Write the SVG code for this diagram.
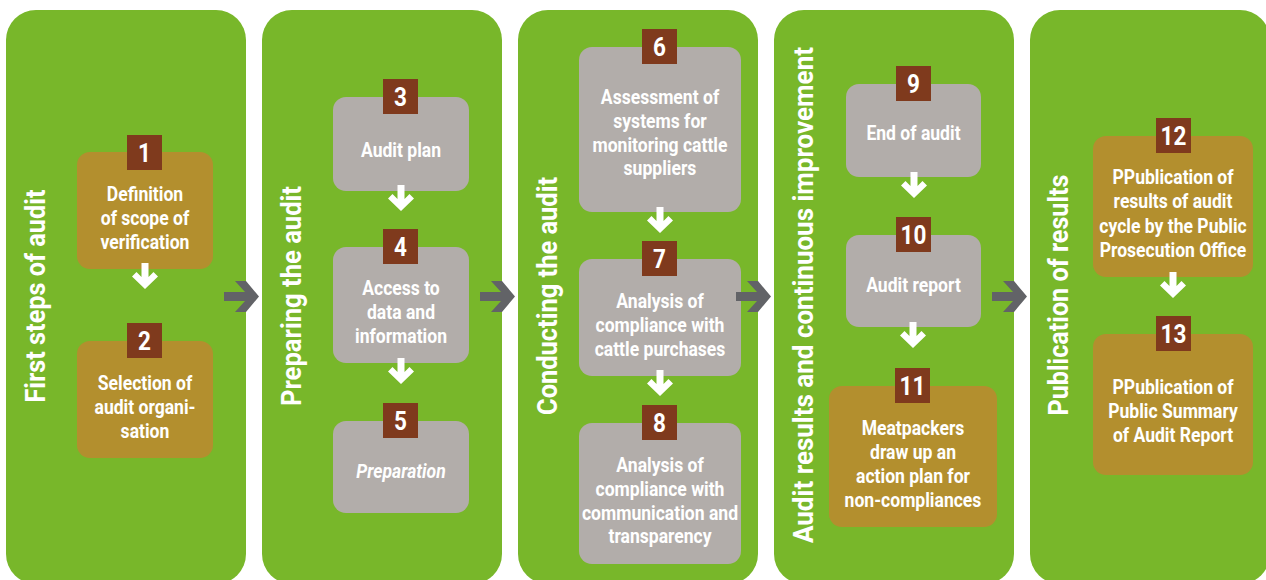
<svg xmlns="http://www.w3.org/2000/svg" width="1266" height="580" viewBox="0 0 1266 580">
<style>
.panel{fill:#78b72a}
.gold{fill:#b38f2e}
.gray{fill:#b2adaa}
.badge{fill:#7f3a1d}
.num{font-family:Roboto,"Liberation Sans",sans-serif;font-weight:700;font-size:25px;fill:#fff;text-anchor:middle;transform-box:fill-box;transform-origin:center;transform:scaleX(0.9)}
.lbl{font-family:Roboto,"Liberation Sans",sans-serif;font-weight:700;font-size:19.5px;fill:#fff;text-anchor:middle;transform-box:fill-box;transform-origin:center;transform:scaleX(0.9)}
.ital{font-style:italic}
.title{font-family:Roboto,"Liberation Sans",sans-serif;font-weight:700;font-size:28px;fill:#fff;text-anchor:middle}
.warr{fill:#fff}
.garr{fill:#626367}
</style>
<defs>
<path id="down" d="M-3.5,0 L3.5,0 L3.5,14 L8.5,9 L13,13.5 L0,26 L-13,13.5 L-8.5,9 L-3.5,14 Z"/>
<path id="right" d="M-35,-4.5 L-14,-4.5 L-24,-15.5 L-13,-15.5 L0,0 L-13,15.5 L-24,15.5 L-14,4.5 L-35,4.5 Z"/>
</defs>

<g id="panels">
<g id="panel-first-steps">
<rect class="panel" x="6" y="10" width="240" height="574" rx="30"/>
<text class="title" transform="translate(45,296) rotate(-90)" textLength="213" lengthAdjust="spacingAndGlyphs">First steps of audit</text>
</g>
<g id="panel-preparing">
<rect class="panel" x="262" y="10" width="240" height="574" rx="30"/>
<text class="title" transform="translate(301,296) rotate(-90)" textLength="220" lengthAdjust="spacingAndGlyphs">Preparing the audit</text>
</g>
<g id="panel-conducting">
<rect class="panel" x="518" y="10" width="240" height="574" rx="30"/>
<text class="title" transform="translate(557,296) rotate(-90)" textLength="238" lengthAdjust="spacingAndGlyphs">Conducting the audit</text>
</g>
<g id="panel-results">
<rect class="panel" x="774" y="10" width="240" height="574" rx="30"/>
<text class="title" transform="translate(813,295) rotate(-90)" textLength="496" lengthAdjust="spacingAndGlyphs">Audit results and continuous improvement</text>
</g>
<g id="panel-publication">
<rect class="panel" x="1030" y="10" width="240" height="574" rx="30"/>
<text class="title" transform="translate(1068,295) rotate(-90)" textLength="241" lengthAdjust="spacingAndGlyphs">Publication of results</text>
</g>
</g>

<g id="node-1">
<rect class="gold" x="77" y="152" width="136" height="117" rx="13"/>
<rect class="badge" x="127" y="135" width="35" height="35"/>
<text class="num" x="144.5" y="162">1</text>
<text class="lbl" x="145" y="201">Definition</text>
<text class="lbl" x="145" y="225">of scope of</text>
<text class="lbl" x="145" y="249">verification</text>
</g>
<g id="node-2">
<rect class="gold" x="77" y="341" width="136" height="117" rx="13"/>
<rect class="badge" x="127" y="323" width="35" height="35"/>
<text class="num" x="144.5" y="350">2</text>
<text class="lbl" x="145" y="390">Selection of</text>
<text class="lbl" x="145" y="414">audit organi-</text>
<text class="lbl" x="145" y="438">sation</text>
</g>

<g id="node-3">
<rect class="gray" x="333" y="97" width="136" height="94" rx="13"/>
<rect class="badge" x="383" y="79" width="35" height="35"/>
<text class="num" x="400.5" y="106">3</text>
<text class="lbl" x="401" y="157">Audit plan</text>
</g>
<g id="node-4">
<rect class="gray" x="333" y="247" width="136" height="116" rx="13"/>
<rect class="badge" x="383" y="229" width="35" height="35"/>
<text class="num" x="400.5" y="256">4</text>
<text class="lbl" x="401" y="295">Access to</text>
<text class="lbl" x="401" y="319">data and</text>
<text class="lbl" x="401" y="343">information</text>
</g>
<g id="node-5">
<rect class="gray" x="333" y="421" width="136" height="92" rx="13"/>
<rect class="badge" x="383" y="403" width="35" height="35"/>
<text class="num" x="400.5" y="430">5</text>
<text class="lbl ital" x="401" y="478">Preparation</text>
</g>

<g id="node-6">
<rect class="gray" x="579" y="47" width="162" height="165" rx="13"/>
<rect class="badge" x="642" y="29" width="35" height="35"/>
<text class="num" x="659.5" y="56">6</text>
<text class="lbl" x="660" y="104">Assessment of</text>
<text class="lbl" x="660" y="128">systems for</text>
<text class="lbl" x="660" y="152">monitoring cattle</text>
<text class="lbl" x="660" y="175">suppliers</text>
</g>
<g id="node-7">
<rect class="gray" x="579" y="259" width="162" height="117" rx="13"/>
<rect class="badge" x="642" y="241" width="35" height="35"/>
<text class="num" x="659.5" y="268">7</text>
<text class="lbl" x="660" y="308">Analysis of</text>
<text class="lbl" x="660" y="332">compliance with</text>
<text class="lbl" x="660" y="356">cattle purchases</text>
</g>
<g id="node-8">
<rect class="gray" x="579" y="423" width="162" height="141" rx="13"/>
<rect class="badge" x="642" y="405" width="35" height="35"/>
<text class="num" x="659.5" y="432">8</text>
<text class="lbl" x="660" y="472">Analysis of</text>
<text class="lbl" x="660" y="496">compliance with</text>
<text class="lbl" x="660" y="520">communication and</text>
<text class="lbl" x="660" y="543">transparency</text>
</g>

<g id="node-9">
<rect class="gray" x="846" y="84" width="135" height="93" rx="13"/>
<rect class="badge" x="896" y="66" width="35" height="35"/>
<text class="num" x="913.5" y="93">9</text>
<text class="lbl" x="913.5" y="140">End of audit</text>
</g>
<g id="node-10">
<rect class="gray" x="846" y="235" width="135" height="92" rx="13"/>
<rect class="badge" x="896" y="217" width="35" height="35"/>
<text class="num" x="913.5" y="244">10</text>
<text class="lbl" x="913.5" y="292">Audit report</text>
</g>
<g id="node-11">
<rect class="gold" x="829" y="386" width="168" height="141" rx="13"/>
<rect class="badge" x="895" y="368" width="35" height="35"/>
<text class="num" x="912.5" y="395">11</text>
<text class="lbl" x="913" y="435">Meatpackers</text>
<text class="lbl" x="913" y="459">draw up an</text>
<text class="lbl" x="913" y="483">action plan for</text>
<text class="lbl" x="913" y="507">non-compliances</text>
</g>

<g id="node-12">
<rect class="gold" x="1093" y="136" width="160" height="141" rx="13"/>
<rect class="badge" x="1156" y="118" width="35" height="35"/>
<text class="num" x="1173.5" y="145">12</text>
<text class="lbl" x="1173" y="184">PPublication of</text>
<text class="lbl" x="1173" y="208">results of audit</text>
<text class="lbl" x="1173" y="233">cycle by the Public</text>
<text class="lbl" x="1173" y="257">Prosecution Office</text>
</g>
<g id="node-13">
<rect class="gold" x="1093" y="334" width="160" height="141" rx="13"/>
<rect class="badge" x="1156" y="316" width="35" height="35"/>
<text class="num" x="1173.5" y="343">13</text>
<text class="lbl" x="1173" y="394">PPublication of</text>
<text class="lbl" x="1173" y="418">Public Summary</text>
<text class="lbl" x="1173" y="442">of Audit Report</text>
</g>

<g id="connectors">
<use href="#right" class="garr" x="259" y="296.5"/>
<use href="#right" class="garr" x="515" y="296.5"/>
<use href="#right" class="garr" x="771" y="296.5"/>
<use href="#right" class="garr" x="1027" y="296.5"/>
<use href="#down" class="warr" x="145" y="263"/>
<use href="#down" class="warr" x="401" y="185"/>
<use href="#down" class="warr" x="401" y="358"/>
<use href="#down" class="warr" x="660" y="207"/>
<use href="#down" class="warr" x="660" y="370"/>
<use href="#down" class="warr" x="914" y="172"/>
<use href="#down" class="warr" x="913" y="322"/>
<use href="#down" class="warr" x="1173" y="272"/>
</g>
</svg>
